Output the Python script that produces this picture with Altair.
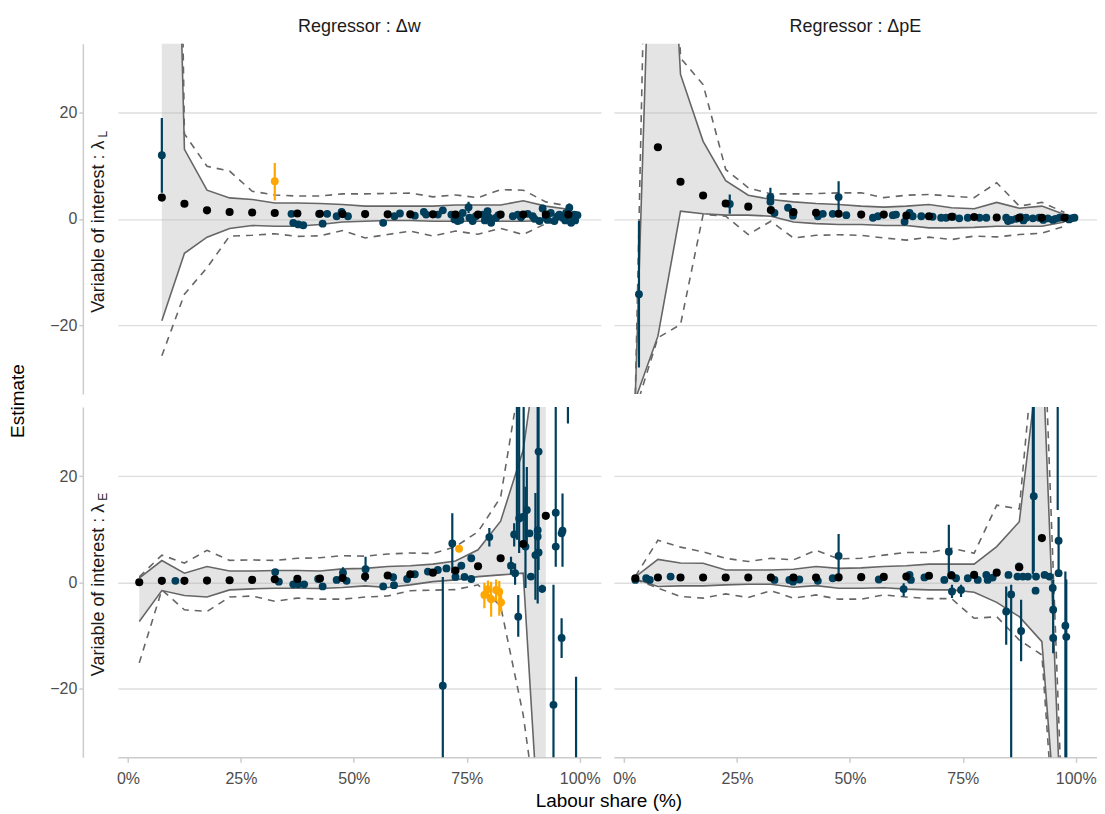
import altair as alt
import pandas as pd

FONT = "Liberation Sans"
BLUE = "#003f5c"
ORANGE = "#ffa600"
BAND = "#B3B3B3"
LINEC = "#666666"
GRIDC = "#DEDEDE"
AXISC = "#CCCCCC"

COL_TITLES = ["Regressor : Δw", "Regressor : ΔpE"]
ROW_MAIN = ["Variable of interest : λ", "Variable of interest : λ"]
ROW_SUB = ["L", "E"]
Y_TITLE = ["Estimate"]
X_TITLE = ["Labour share (%)"]
X_TICKS = [0, 25, 50, 75, 100]
Y_TICKS = [-20, 0, 20]

BINS_A = [7.5, 12.5, 17.5, 22.5, 27.5, 32.5, 37.5, 42.5, 47.5, 52.5, 57.5, 62.5, 67.5, 72.5, 77.5, 82.5, 87.5, 92.5, 97.5]
BINS_B = [2.5, 7.5, 12.5, 17.5, 22.5, 27.5, 32.5, 37.5, 42.5, 47.5, 52.5, 57.5, 62.5, 67.5, 72.5, 77.5, 82.5, 87.5, 92.5, 97.5]
BINS_C = [2.5, 7.5, 12.5, 17.5, 22.5, 27.5, 32.5, 37.5, 42.5, 47.5, 52.5, 57.5, 62.5, 67.5, 72.5, 77.5, 82.5, 87.5, 92.5]

# ---------------- top-left: regressor dw, lambda_L ----------------
TL_EST = [4.0, 2.85, 1.6, 1.3, 1.2, 1.1, 1.0, 0.95, 0.9, 0.9, 0.85, 0.85, 0.85, 0.8, 0.8, 0.8, 0.8, 0.8, 0.8]
TL_HI = [186, 13.1, 5.4, 3.95, 3.65, 3.0, 3.0, 2.9, 2.7, 2.4, 2.4, 2.4, 2.4, 2.6, 2.6, 2.6, 3.4, 2.4, 1.8]
TL_LO = [-19.2, -6.5, -3.45, -1.8, -1.25, -1.4, -1.4, -1.05, -0.6, -0.45, -0.3, -0.3, -0.45, -0.45, -0.45, -0.45, -0.45, -0.3, 0.1]
TL_DHI = [300, 16.0, 9.9, 9.0, 5.2, 4.5, 4.3, 4.3, 4.7, 4.7, 4.8, 4.85, 4.15, 4.5, 4.0, 5.5, 5.4, 3.2, 2.4]
TL_DLO = [-25.8, -14.2, -9.2, -3.25, -3.1, -2.8, -3.3, -3.2, -2.2, -3.6, -2.95, -2.3, -3.25, -2.3, -2.9, -1.8, -2.95, -0.9, -0.5]
TL_BX = [7.5, 36.2, 36.6, 37.7, 38.8, 42.3, 43.1, 44.1, 46.2, 47.3, 48.7, 56.5, 59.0, 60.2, 63.5, 65.5, 66.0, 68.6, 69.7,
         71.6, 72.3, 72.8, 73.0, 73.6, 74.1, 75.4, 75.6, 76.3, 77.0, 78.5, 79.0, 79.6, 80.0, 80.4, 81.5, 82.0, 85.2, 86.3,
         87.0, 88.5, 89.6, 90.0, 91.1, 91.8, 92.5, 92.9, 93.6, 94.4, 95.0, 95.5, 96.2, 96.8, 97.0, 97.7, 98.1, 98.5, 98.8,
         99.0, 99.5]
TL_BY = [12.0, 0.95, -0.75, -1.05, -1.2, 0.95, -0.9, 0.95, 0.5, 1.3, 0.5, -0.75, 0.5, 1.0, 0.6, 1.3, 0.8, 0.8, 1.6,
         0.8, -0.1, 0.6, -0.4, -0.2, 1.1, 2.2, 0.2, -0.4, 0.5, 0.8, -0.3, 1.45, 0.2, -0.75, 0.2, 0.7, 0.5, 0.8,
         0.3, 0.95, 0.5, 0.0, -0.4, 1.95, 0.2, -0.2, 1.1, -0.4, 0.4, 0.8, 0.2, -0.3, 1.1, 2.1, -0.75, 0.3, 0.8,
         -0.3, 0.7]
TL_EX = [7.5, 47.3, 75.4, 97.7]
TL_ELO = [4.9, 0.8, 1.1, 1.2]
TL_EHI = [19.0, 1.9, 3.2, 2.9]
TL_OX = [32.5]
TL_OY = [7.1]
TL_OEX = [32.5]
TL_OELO = [3.45]
TL_OEHI = [10.5]

# ---------------- top-right: regressor dpE, lambda_L ----------------
TR_EST = [-36, 13.5, 7.0, 4.4, 2.9, 2.3, 1.65, 1.25, 1.15, 0.95, 0.8, 0.8, 0.6, 0.5, 0.4, 0.35, 0.25, 0.2, 0.2, 0.2]
TR_HI = [-33.2, 104.5, 27.2, 14.6, 7.2, 4.45, 3.65, 3.2, 2.9, 2.7, 2.4, 2.2, 2.4, 2.7, 2.1, 1.9, 3.1, 2.0, 2.4, 0.8]
TR_LO = [-34.0, -22.1, 1.45, 0.95, 0.7, 0.7, 0.5, -0.6, -0.9, -1.05, -1.05, -1.25, -1.25, -1.7, -1.7, -1.6, -1.4, -1.4, -1.4, -0.6]
TR_DHI = [-33.1, 167, 30.3, 25.3, 9.3, 5.85, 4.7, 4.7, 4.75, 4.9, 4.9, 4.0, 4.45, 4.6, 4.27, 4.0, 6.8, 2.4, 3.1, 1.2]
TR_DLO = [-36.0, -22.4, -19.9, 0.8, 0.5, -2.95, -0.45, -3.6, -3.1, -3.0, -3.1, -3.6, -4.0, -3.45, -3.9, -3.25, -3.4, -2.95, -2.7, -1.4]
TR_BX = [3.3, 23.4, 32.4, 32.4, 33.3, 36.3, 37.4, 37.4, 42.9, 44.0, 46.2, 47.5, 49.2, 55.1, 56.2, 59.5, 60.2, 62.1,
         63.2, 63.9, 65.8, 68.3, 70.2, 71.3, 72.8, 74.2, 76.1, 78.7, 80.2, 84.6, 85.0, 85.7, 86.8, 87.8, 88.4, 89.0,
         90.5, 91.9, 92.8, 93.8, 94.9, 95.5, 96.4, 97.9, 98.5, 99.0, 99.7]
TR_BY = [-14.2, 2.8, 4.1, 3.2, 1.1, 2.1, 1.3, 0.6, 0.5, 0.95, 0.95, 4.1, 0.7, 0.2, 0.5, 0.7, 0.8, -0.55,
         1.1, 0.5, 0.5, 0.4, 0.2, 0.2, 0.4, 0.1, 0.2, 0.2, 0.2, 0.2, -0.4, -0.2, 0.0, 0.3, -0.3, 0.2,
         0.1, 0.2, -0.2, 0.1, -0.2, 0.0, 0.2, 0.2, -0.1, 0.1, 0.2]
TR_EX = [3.3, 23.4, 32.4, 47.5]
TR_ELO = [-28.0, 0.95, 3.0, 0.8]
TR_EHI = [-0.4, 4.6, 5.85, 7.1]

# ---------------- bottom-left: regressor dw, lambda_E ----------------
BL_EST = [0.0, 0.25, 0.25, 0.3, 0.37, 0.43, 0.56, 0.62, 0.68, 0.8, 1.05, 1.25, 1.5, 1.8, 2.2, 3.0, 4.5, 7.2, 12.5]
BL_HI = [0.75, 4.07, 1.7, 2.95, 2.1, 2.1, 2.2, 2.2, 2.1, 2.5, 2.6, 2.95, 3.1, 3.4, 4.0, 6.1, 11.5, 24.9, 55]
BL_LO = [-7.4, -1.57, -2.5, -2.8, -1.45, -1.26, -1.13, -1.13, -1.2, -1.0, -0.7, -1.0, -0.5, 0.1, 0.43, 1.05, 1.37, 1.7, -68]
BL_DHI = [1.0, 5.1, 3.6, 6.0, 4.1, 4.2, 4.1, 4.5, 4.6, 5.0, 4.9, 5.3, 5.5, 5.4, 6.7, 9.5, 16.0, 42, 120]
BL_DLO = [-15.2, -1.45, -5.2, -5.5, -2.8, -2.6, -3.6, -3.0, -3.2, -3.2, -2.8, -2.6, -1.6, -1.5, -1.4, -0.5, -4.5, -25, -56]
BL_BX = [10.5, 32.6, 33.4, 36.6, 37.7, 39.0, 42.1, 43.1, 46.2, 47.6, 48.4, 52.6, 56.5, 58.7, 58.9, 61.8, 63.5, 66.4,
         68.6, 69.7, 70.5, 71.8, 72.5, 73.8, 74.5, 76.0, 76.0, 80.0, 84.8, 85.7, 86.4, 85.5, 86.6, 87.4, 88.3, 88.0,
         88.9, 89.2, 90.2, 90.7, 90.7, 90.9, 90.9, 91.7, 94.7, 94.7, 94.2, 96.0, 96.2, 96.0, 97.4, 99.2]
BL_BY = [0.25, 1.9, 0.1, -0.4, -0.4, -0.4, 0.6, -0.8, 0.43, 1.8, 0.25, 2.45, -0.8, 0.94, -0.56, 0.6, 1.5, 2.0,
         2.3, -19.5, 2.6, 7.3, 1.0, 3.1, 1.0, 4.5, 0.6, 8.5, 3.1, 1.7, -6.5, 9.0, 12.0, 12.3, 13.6, 6.7,
         9.2, 1.05, 5.1, 8.6, 9.8, 24.6, 5.6, -1.26, 13.1, 6.7, -23.1, -10.5, 9.7, 9.2, 45, -45]
BL_EX = [47.6, 52.6, 69.7, 71.8, 80.0, 84.8, 85.7, 86.4, 85.5, 86.1, 86.6, 87.6, 88.3, 88.0, 90.2, 90.7, 90.9, 91.7,
         94.7, 94.2, 96.0, 96.2, 97.4, 99.2]
BL_ELO = [0.8, 0.1, -40, 1.7, 6.7, 1.5, -0.5, -10.3, 6.7, 8.0, 5.5, 7.0, 6.1, -1.1, -3.3, -4.0, 2.3, -2.0,
          2.9, -40, -14.3, 2.9, 29.9, -80]
BL_EHI = [2.8, 4.8, 1.0, 13.0, 10.2, 4.8, 3.5, -2.4, 11.1, 40, 40, 40, 21.7, 18.0, 16.8, 40, 40, -0.5,
          40, -0.5, -6.8, 16.7, 60, -17.8]
BL_OX = [73.3, 78.9, 79.7, 80.4, 81.5, 82.2, 82.6]
BL_OY = [6.3, -2.4, -1.3, -3.2, -1.45, -1.8, -3.8]
BL_OEX = [78.9, 79.7, 80.4, 81.5, 82.2, 82.6]
BL_OELO = [-4.9, -3.5, -6.5, -3.6, -6.3, -5.6]
BL_OEHI = [-0.1, 0.3, 0.1, 0.5, 0.2, -2.0]

# ---------------- bottom-right: regressor dpE, lambda_E ----------------
BR_EST = [0.75, 0.87, 0.87, 0.87, 0.87, 0.87, 0.87, 0.87, 0.87, 0.9, 0.95, 1.0, 1.05, 1.2, 1.25, 1.37, 1.8, 2.8, 8.3, -64]
BR_HI = [1.0, 4.3, 3.6, 3.57, 2.3, 2.3, 2.3, 2.45, 2.95, 2.6, 2.7, 2.95, 3.1, 3.4, 3.4, 3.4, 6.7, 11.4, 47, -62]
BR_LO = [0.6, -0.8, -0.7, -0.7, -0.5, -0.4, -0.4, -0.95, -0.65, -1.13, -1.13, -1.05, -1.3, -1.45, -1.45, -1.9, -3.8, -6.5, -11.2, -66]
BR_DHI = [1.1, 7.9, 6.6, 5.7, 4.5, 3.9, 4.5, 4.2, 6.0, 4.4, 4.5, 5.1, 5.6, 5.6, 6.4, 5.45, 14.5, 13.8, 60, -55]
BR_DLO = [0.5, -1.1, -2.7, -3.0, -2.2, -2.9, -1.6, -3.0, -2.4, -3.2, -3.2, -2.4, -2.8, -3.1, -3.1, -6.8, -6.5, -10.9, -13.7, -75]
BR_BX = [2.5, 4.9, 5.7, 10.3, 33.3, 36.6, 37.4, 38.8, 42.9, 46.2, 47.5, 56.4, 61.9, 63.2, 63.5, 66.5, 70.9, 71.9,
         72.4, 72.6, 73.5, 74.6, 76.1, 78.3, 80.2, 80.5, 81.6, 84.6, 85.1, 85.7, 87.9, 87.4, 87.1, 88.3, 89.4, 90.7,
         91.2, 91.1, 93.1, 94.9, 95.0, 95.0, 94.2, 96.2, 96.2, 96.0, 97.7, 97.9]
BR_BY = [0.43, 0.75, 0.43, 1.05, 0.43, 0.43, 0.1, 0.5, 0.25, 0.75, 4.95, 0.5, -1.3, 1.37, 0.43, 0.9, 0.43, 5.75,
         1.37, -1.75, 0.75, -1.45, 0.75, 0.43, 1.37, 0.43, 0.87, -5.5, 1.37, -2.3, -9.2, 2.95, 1.05, 1.05, 1.05, 16.2,
         1.05, -1.6, 1.37, -1.1, -5.2, -10.5, 1.05, 7.8, 1.7, 45, -8.2, -10.3]
BR_EX = [47.5, 61.9, 71.9, 72.6, 74.6, 84.6, 85.7, 87.9, 90.5, 90.7, 95.0, 96.2, 96.0, 97.7, 97.9]
BR_ELO = [0.8, -2.7, 1.7, -3.0, -2.8, -11.8, -40, -14.9, 1.5, 2.0, -13.4, 2.0, 13.6, -40, -40]
BR_EHI = [9.1, -0.2, 10.8, -0.5, -0.5, -0.8, -0.5, -3.3, 40, 40, 0.4, 12.3, 60, 2.0, 0.5]

W, H = 484, 351
XS = alt.Scale(domain=[-2.25, 104.7], nice=False, zero=False)
YS = alt.Scale(domain=[-33, 33], nice=False, zero=False)
MINUS = "datum.value < 0 ? '\u2212' + abs(datum.value) : datum.label"


def panel(r, c, bins, est, lo, hi, dlo, dhi, bx, by, ex, elo, ehi,
          ox=None, oy=None, oex=None, oelo=None, oehi=None):
    left = c == 0
    bottom = r == 1
    yaxis = alt.Axis(values=Y_TICKS, grid=True, gridColor=GRIDC, gridWidth=1.4,
                     domain=left, domainColor=AXISC, domainWidth=1.5,
                     ticks=left, tickColor=AXISC, tickWidth=1.5, tickSize=4,
                     labels=left, labelFontSize=16, labelColor="#4D4D4D", labelFont=FONT,
                     labelPadding=2, labelExpr=MINUS, offset=35 if left else 0, title=None)
    if bottom:
        xaxis = alt.Axis(values=X_TICKS, grid=False, domain=True, domainColor=AXISC, domainWidth=1.5,
                         ticks=True, tickColor=AXISC, tickWidth=1.5, tickSize=5,
                         labelFontSize=16, labelColor="#4D4D4D", labelFont=FONT, labelPadding=8,
                         labelFlush=False, labelExpr="datum.value + '%'", title=None)
    else:
        xaxis = None

    def X(f):
        return alt.X(f, type="quantitative", scale=XS, axis=xaxis, title=None)

    def Y(f):
        return alt.Y(f, type="quantitative", scale=YS, axis=yaxis, title=None)

    band = pd.DataFrame({"x": bins, "est": est, "lo": lo, "hi": hi, "dlo": dlo, "dhi": dhi})
    base = alt.Chart(band)
    layers = [
        base.mark_area(color=BAND, opacity=0.35, clip=True).encode(x=X("x"), y=Y("lo"), y2="hi"),
        base.mark_line(color=LINEC, strokeWidth=1.6, clip=True).encode(x=X("x"), y=Y("lo")),
        base.mark_line(color=LINEC, strokeWidth=1.6, clip=True).encode(x=X("x"), y=Y("hi")),
        base.mark_line(color=LINEC, strokeWidth=1.6, strokeDash=[7, 6], clip=True).encode(x=X("x"), y=Y("dlo")),
        base.mark_line(color=LINEC, strokeWidth=1.6, strokeDash=[7, 6], clip=True).encode(x=X("x"), y=Y("dhi")),
    ]
    eb = pd.DataFrame({"x": ex, "lo": elo, "hi": ehi})
    layers.append(alt.Chart(eb).mark_rule(color=BLUE, strokeWidth=2.2, clip=True)
                  .encode(x=X("x"), y=Y("lo"), y2="hi"))
    bp = pd.DataFrame({"x": bx, "y": by})
    layers.append(alt.Chart(bp).mark_circle(color=BLUE, size=62, opacity=1, clip=True)
                  .encode(x=X("x"), y=Y("y")))
    if ox is not None:
        oeb = pd.DataFrame({"x": oex, "lo": oelo, "hi": oehi})
        layers.append(alt.Chart(oeb).mark_rule(color=ORANGE, strokeWidth=2.2, clip=True)
                      .encode(x=X("x"), y=Y("lo"), y2="hi"))
        op = pd.DataFrame({"x": ox, "y": oy})
        layers.append(alt.Chart(op).mark_circle(color=ORANGE, size=62, opacity=1, clip=True)
                      .encode(x=X("x"), y=Y("y")))
    layers.append(base.mark_circle(color="black", size=66, opacity=1, clip=True)
                  .encode(x=X("x"), y=Y("est")))

    # facet strip labels
    if r == 0:
        layers.append(alt.Chart(pd.DataFrame({"t": [COL_TITLES[c]]}))
                      .mark_text(fontSize=18, font=FONT, color="#1A1A1A", align="center", baseline="middle")
                      .encode(x=alt.value(W / 2), y=alt.value(-17), text="t:N"))
    if left:
        layers.append(alt.Chart(pd.DataFrame({"t": [ROW_MAIN[r]]}))
                      .mark_text(fontSize=18, font=FONT, color="#1A1A1A", angle=270, align="right", baseline="middle")
                      .encode(x=alt.value(-18.5), y=alt.value(97), text="t:N"))
        layers.append(alt.Chart(pd.DataFrame({"t": [ROW_SUB[r]]}))
                      .mark_text(fontSize=12, font=FONT, color="#1A1A1A", angle=270, align="left", baseline="middle")
                      .encode(x=alt.value(-14.5), y=alt.value(94), text="t:N"))
    if r == 0 and left:
        layers.append(alt.Chart(pd.DataFrame({"t": Y_TITLE}))
                      .mark_text(fontSize=19, font=FONT, color="black", angle=270, align="center", baseline="middle")
                      .encode(x=alt.value(-99.7), y=alt.value(H + 7), text="t:N"))
    if r == 1 and left:
        layers.append(alt.Chart(pd.DataFrame({"t": X_TITLE}))
                      .mark_text(fontSize=19, font=FONT, color="black", align="center", baseline="middle")
                      .encode(x=alt.value(492), y=alt.value(H + 44), text="t:N"))
    return alt.layer(*layers).properties(width=W, height=H)


tl = panel(0, 0, BINS_A, TL_EST, TL_LO, TL_HI, TL_DLO, TL_DHI, TL_BX, TL_BY, TL_EX, TL_ELO, TL_EHI,
           TL_OX, TL_OY, TL_OEX, TL_OELO, TL_OEHI)
tr = panel(0, 1, BINS_B, TR_EST, TR_LO, TR_HI, TR_DLO, TR_DHI, TR_BX, TR_BY, TR_EX, TR_ELO, TR_EHI)
bl = panel(1, 0, BINS_C, BL_EST, BL_LO, BL_HI, BL_DLO, BL_DHI, BL_BX, BL_BY, BL_EX, BL_ELO, BL_EHI,
           BL_OX, BL_OY, BL_OEX, BL_OELO, BL_OEHI)
br = panel(1, 1, BINS_B, BR_EST, BR_LO, BR_HI, BR_DLO, BR_DHI, BR_BX, BR_BY, BR_EX, BR_ELO, BR_EHI)

chart = alt.concat(tl, tr, bl, br, columns=2, spacing=13, bounds="flush").properties(
    padding={"left": 1, "top": 9, "right": 0, "bottom": 0}
).configure(
    font=FONT,
    view=alt.ViewConfig(stroke="transparent", strokeWidth=0),
)

chart.save("out.html", embed_options={"renderer": "svg", "actions": False})
